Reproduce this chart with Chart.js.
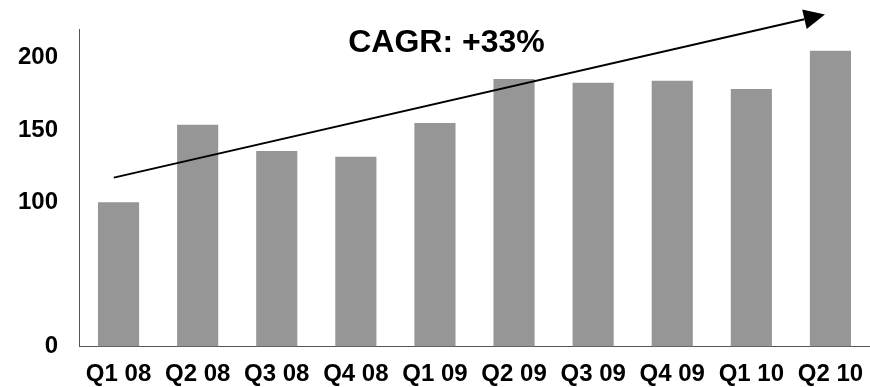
<!DOCTYPE html>
<html>
<head>
<meta charset="utf-8">
<script src="https://cdn.jsdelivr.net/npm/chart.js@4/dist/chart.umd.min.js"></script>
<style>
  html, body { margin: 0; padding: 0; background: #fff; }
  #wrap { width: 870px; height: 387px; position: relative; }
</style>
</head>
<body>
<div id="wrap"><canvas id="c"></canvas></div>
<script>
// ---- data ----
const categories = ["Q1 08","Q2 08","Q3 08","Q4 08","Q1 09","Q2 09","Q3 09","Q4 09","Q1 10","Q2 10"];
const values = [100, 153.6, 135.5, 131.4, 154.9, 185.4, 182.7, 184.1, 178.5, 204.9];
const yTicks = [0, 100, 150, 200];
const annotationText = "CAGR: +33%";
// trend arrow endpoints in data units: [category index, value]
const trendStart = [-0.06, 117];
const trendEnd = [8.93, 230];

const FONT = "'Liberation Sans', Arial, sans-serif";

const overlay = {
  id: 'overlay',
  afterDatasetsDraw(chart) {
    const ctx = chart.ctx;
    const xs = chart.scales.x, ys = chart.scales.y;
    const x0 = xs.getPixelForValue(trendStart[0]), y0 = ys.getPixelForValue(trendStart[1]);
    const x1 = xs.getPixelForValue(trendEnd[0]), y1 = ys.getPixelForValue(trendEnd[1]);
    const ang = Math.atan2(y1 - y0, x1 - x0);
    const headLen = 21, headHalf = 10;
    ctx.save();
    ctx.strokeStyle = '#000';
    ctx.fillStyle = '#000';
    ctx.lineWidth = 2;
    ctx.beginPath();
    ctx.moveTo(x0, y0);
    const bx = x1 - headLen * Math.cos(ang), by = y1 - headLen * Math.sin(ang);
    ctx.lineTo(bx, by);
    ctx.stroke();
    ctx.beginPath();
    ctx.moveTo(x1, y1);
    ctx.lineTo(bx + headHalf * Math.sin(ang), by - headHalf * Math.cos(ang));
    ctx.lineTo(bx - headHalf * Math.sin(ang), by + headHalf * Math.cos(ang));
    ctx.closePath();
    ctx.fill();
    // CAGR label
    ctx.font = "bold 32px " + FONT;
    ctx.textAlign = 'center';
    ctx.textBaseline = 'alphabetic';
    ctx.fillText(annotationText, 446.5, 52);
    ctx.restore();
  }
};

new Chart(document.getElementById('c'), {
  type: 'bar',
  data: {
    labels: categories,
    datasets: [{
      data: values,
      backgroundColor: '#969696',
      borderWidth: 0,
      barPercentage: 0.52,
      categoryPercentage: 1.0
    }]
  },
  options: {
    responsive: true,
    maintainAspectRatio: false,
    animation: false,
    layout: { padding: { left: 0, top: 29, right: 0, bottom: 0 } },
    plugins: { legend: { display: false }, tooltip: { enabled: false }, title: { display: false } },
    scales: {
      x: {
        grid: { display: false, drawTicks: false },
        border: { display: true, color: '#555', width: 1 },
        afterFit(axis) { axis.height = 40.5; axis.paddingLeft = 0; axis.paddingRight = 0; },
        ticks: { color: '#000', font: { family: FONT, size: 24, weight: 'bold' }, padding: 13, maxRotation: 0, autoSkip: false }
      },
      y: {
        min: 0, max: 220,
        grid: { display: false, drawTicks: false },
        border: { display: true, color: '#555', width: 1 },
        afterBuildTicks(axis) { axis.ticks = yTicks.map(v => ({ value: v })); },
        afterFit(axis) { axis.width = 79; axis.paddingTop = 0; axis.paddingBottom = 0; },
        ticks: { color: '#000', font: { family: FONT, size: 24, weight: 'bold' }, padding: 21 }
      }
    }
  },
  plugins: [overlay]
});
</script>
</body>
</html>
